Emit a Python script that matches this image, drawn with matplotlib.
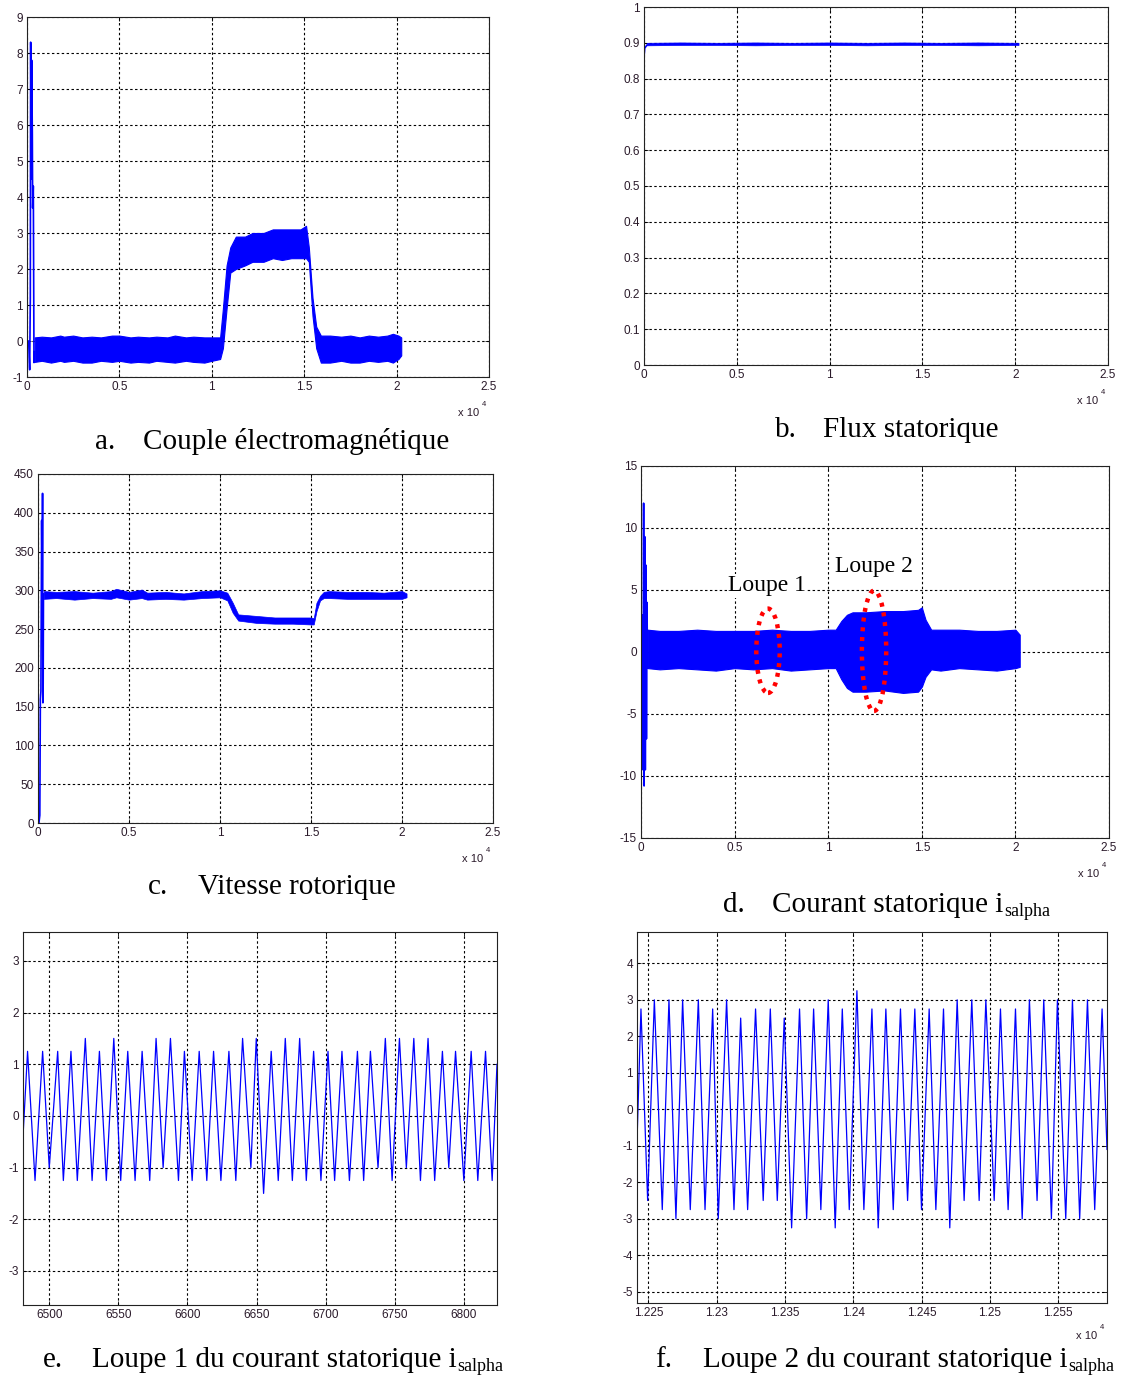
import matplotlib
matplotlib.use("Agg")
import matplotlib.pyplot as plt
from matplotlib.patches import Ellipse

W, H = 1121, 1380
BLUE = "#0000ff"
TICKC = "#2a1a2a"

# ---------------- data ----------------
# x axis labels for panels a-d (samples, shown as x 10^4)
long_xticks = [0, 5000, 10000, 15000, 20000, 25000]
long_xlabels = ["0", "0.5", "1", "1.5", "2", "2.5"]

# a. electromagnetic torque: start-up transient + noise envelope
a_start_x = [0, 90, 144, 180, 198, 234, 252, 288, 306, 342, 378, 414]
a_start_y = [0.0, 0.0, -0.8, 1.2, 8.3, 4.5, 7.8, 5.8, 3.7, 4.3, -0.6, -0.3]
a_env_x = [414, 800, 1300, 1800, 2000, 2500, 3000, 3500, 4000, 4600, 5000, 5600, 6000,
           6600, 7000, 7600, 8000, 8600, 9000, 9600, 10000, 10450, 10600, 10800, 11000,
           11300, 11800, 12200, 12800, 13300, 13800, 14300, 14800, 15100, 15250, 15450,
           15650, 15900, 16400, 17000, 17500, 18000, 18500, 19000, 19500, 19800, 20100, 20250]
a_env_hi = [0.1, 0.12, 0.1, 0.15, 0.12, 0.15, 0.1, 0.12, 0.1, 0.15, 0.15, 0.1, 0.12,
            0.1, 0.12, 0.1, 0.15, 0.1, 0.12, 0.1, 0.1, 0.1, 0.9, 2.1, 2.6, 2.9,
            2.9, 3.0, 3.0, 3.1, 3.1, 3.1, 3.1, 3.2, 2.6, 1.2, 0.4, 0.15, 0.15, 0.12,
            0.15, 0.1, 0.15, 0.12, 0.15, 0.2, 0.15, 0.1]
a_env_lo = [-0.58, -0.55, -0.6, -0.55, -0.58, -0.55, -0.6, -0.6, -0.55, -0.58, -0.55, -0.6, -0.58,
            -0.6, -0.55, -0.58, -0.6, -0.55, -0.58, -0.6, -0.55, -0.5, -0.2, 0.9, 1.9, 2.0,
            2.1, 2.2, 2.2, 2.3, 2.25, 2.3, 2.3, 2.3, 2.2, 0.7, -0.2, -0.6, -0.6, -0.55,
            -0.6, -0.6, -0.55, -0.58, -0.55, -0.6, -0.5, -0.4]

# b. stator flux
b_start_x = [0, 0, 40, 150]
b_start_y = [0.0, 0.86, 0.885, 0.893]
b_env_x = [150, 2000, 4000, 6000, 8000, 10000, 12000, 14000, 16000, 18000, 20180]
b_env_hi = [0.900, 0.901, 0.900, 0.901, 0.900, 0.901, 0.900, 0.901, 0.900, 0.901, 0.900]
b_env_lo = [0.893, 0.894, 0.894, 0.893, 0.894, 0.894, 0.893, 0.894, 0.894, 0.893, 0.894]

# c. rotor speed
c_start_x = [0, 50, 100, 130, 160, 200, 230, 250, 270, 285, 300, 320]
c_start_y = [0, 0, 10, 160, 170, 390, 300, 425, 155, 180, 290, 295]
c_env_x = [320, 1000, 2000, 3000, 4000, 4300, 5000, 5700, 6000, 7000, 8000, 9000, 10000,
           10400, 10700, 11000, 12000, 13000, 14000, 15000, 15150, 15300, 15500, 15700,
           16000, 17000, 18000, 19000, 20000, 20250]
c_env_hi = [299, 298, 299, 297, 299, 302, 298, 301, 297, 298, 296, 299, 300,
            297, 284, 269, 267, 265, 265, 265, 264, 284, 293, 298,
            299, 298, 298, 297, 299, 296]
c_env_lo = [289, 290, 288, 290, 289, 291, 288, 290, 288, 289, 288, 290, 291,
            287, 271, 261, 258, 257, 257, 256, 256, 273, 287, 290,
            290, 289, 289, 289, 289, 291]

# d. stator current i_salpha
d_start_x = [0, 60, 110, 140, 165, 200, 230, 265, 290, 320, 350]
d_start_y = [0.0, 3.0, -9.5, 12.0, -10.8, 9.3, -9.5, 7.0, -7.0, 4.0, -1.3]
d_env_x = [350, 1000, 2000, 3000, 4000, 5000, 6000, 7000, 8000, 9000, 10000, 10400, 10700,
           11000, 11300, 12000, 13000, 14000, 14800, 15000, 15200, 15500, 16000, 17000,
           18000, 19000, 20000, 20230]
d_env_hi = [1.8, 1.7, 1.7, 1.8, 1.7, 1.7, 1.7, 1.8, 1.7, 1.7, 1.8, 1.8, 2.5,
            3.0, 3.2, 3.2, 3.3, 3.3, 3.4, 3.6, 2.6, 1.8, 1.8, 1.8,
            1.7, 1.7, 1.8, 1.4]
d_env_lo = [-1.3, -1.4, -1.3, -1.4, -1.5, -1.3, -1.4, -1.3, -1.5, -1.4, -1.3, -1.3, -2.2,
            -2.9, -3.2, -3.2, -3.1, -3.3, -3.2, -2.8, -2.0, -1.4, -1.5, -1.3,
            -1.4, -1.5, -1.3, -1.2]
loupe1 = dict(x=6785, y=0.1, w=1250, h=6.8)
loupe2 = dict(x=12449, y=0.1, w=1300, h=9.7)

# e. zoom 1 : peaks / troughs of i_salpha
e_peak_x = [6484.3, 6495.2, 6506.1, 6515.7, 6526.1, 6536.3, 6546.7, 6556.8, 6567.2, 6577.3,
            6587.7, 6597.8, 6608.5, 6618.9, 6630.0, 6639.9, 6649.8, 6660.6, 6670.8, 6681.2,
            6691.3, 6701.7, 6711.8, 6723.0, 6732.4, 6743.2, 6753.4, 6763.8, 6774.1, 6784.5,
            6794.0, 6805.3, 6815.7]
e_peak_y = [1.25, 1.25, 1.25, 1.25, 1.5, 1.25, 1.5, 1.25, 1.25, 1.5,
            1.5, 1.25, 1.25, 1.25, 1.25, 1.5, 1.5, 1.25, 1.5, 1.5,
            1.25, 1.25, 1.25, 1.25, 1.25, 1.5, 1.5, 1.5, 1.5, 1.25,
            1.25, 1.25, 1.25]
e_trough_x = [6489.7, 6500.0, 6510.2, 6520.3, 6531.0, 6541.3, 6551.7, 6562.1, 6572.7, 6582.4,
              6593.5, 6603.4, 6614.0, 6624.2, 6635.0, 6645.9, 6655.1, 6665.7, 6675.9, 6686.0,
              6696.6, 6706.5, 6717.2, 6727.5, 6737.9, 6748.1, 6758.4, 6768.6, 6778.9, 6789.1,
              6800.0, 6810.1, 6820.5]
e_trough_y = [-1.25, -1.0, -1.25, -1.25, -1.25, -1.25, -1.25, -1.25, -1.25, -1.0,
              -1.25, -1.25, -1.25, -1.25, -1.25, -1.0, -1.5, -1.25, -1.25, -1.25,
              -1.25, -1.25, -1.25, -1.25, -1.0, -1.25, -1.0, -1.25, -1.25, -1.0,
              -1.25, -1.25, -1.25]
e_ends = [(6481.0, -0.4), (6824.0, 1.0)]
e_xticks = [6500, 6550, 6600, 6650, 6700, 6750, 6800]
e_yticks = [-3, -2, -1, 0, 1, 2, 3]

# f. zoom 2
f_peak_x = [12244.6, 12254.4, 12265.1, 12275.1, 12286.6, 12297.1, 12307.3, 12317.6, 12328.5,
            12339.3, 12349.5, 12360.7, 12371.0, 12381.7, 12392.0, 12402.7, 12413.7, 12423.9,
            12434.6, 12445.1, 12455.6, 12466.1, 12476.1, 12486.8, 12497.1, 12507.8, 12518.8,
            12529.0, 12539.5, 12549.5, 12560.5, 12571.5, 12582.2]
f_peak_y = [2.75, 3.0, 3.0, 3.0, 3.0, 2.75, 3.0, 2.5, 2.75,
            2.75, 2.5, 2.75, 2.75, 3.0, 2.75, 3.25, 2.75, 2.75,
            2.75, 2.75, 2.75, 2.75, 3.0, 3.0, 3.0, 2.75, 2.75,
            3.0, 3.0, 3.0, 3.0, 3.0, 2.75]
f_trough_x = [12249.5, 12260.2, 12270.2, 12280.7, 12291.5, 12301.2, 12312.7, 12322.7, 12334.1,
              12344.4, 12354.9, 12365.9, 12376.3, 12386.8, 12397.1, 12407.8, 12418.3, 12429.3,
              12439.8, 12450.0, 12460.5, 12470.7, 12481.2, 12492.2, 12503.2, 12513.4, 12523.7,
              12534.6, 12545.1, 12555.6, 12565.8, 12576.8]
f_trough_y = [-2.5, -2.75, -3.0, -2.75, -2.75, -3.0, -2.75, -2.75, -2.5,
              -2.5, -3.25, -3.0, -2.75, -3.25, -2.75, -2.75, -3.25, -2.75,
              -2.5, -2.75, -2.75, -3.25, -2.5, -2.5, -2.5, -2.75, -3.0,
              -2.5, -3.0, -3.0, -3.0, -2.75]
f_ends = [(12241.7, -0.9), (12585.8, -1.1)]
f_xticks = [12250, 12300, 12350, 12400, 12450, 12500, 12550]
f_xlabels = ["1.225", "1.23", "1.235", "1.24", "1.245", "1.25", "1.255"]
f_yticks = [-5, -4, -3, -2, -1, 0, 1, 2, 3, 4]

captions = [
    ("a.", "Couple électromagnétique", "", 95, 143, 449),
    ("b.", "Flux statorique", "", 775, 823, 437),
    ("c.", "Vitesse rotorique", "", 148, 198, 894),
    ("d.", "Courant statorique i", "salpha", 723, 772, 912),
    ("e.", "Loupe 1 du courant statorique i", "salpha", 43, 92, 1367),
    ("f.", "Loupe 2 du courant statorique i", "salpha", 655, 703, 1367),
]

# ---------------- drawing ----------------
plt.rcParams["font.family"] = ["Liberation Sans", "DejaVu Sans"]
fig = plt.figure(figsize=(W / 100, H / 100), dpi=100)
fig.patch.set_facecolor("white")


def make_ax(l, r, t, b):
    ax = fig.add_axes([l / W, 1 - b / H, (r - l) / W, (b - t) / H])
    ax.set_axisbelow(True)
    ax.grid(True, color="black", linestyle=(0, (2.2, 2.2)), linewidth=0.8)
    ax.tick_params(direction="in", length=3, width=0.6, labelsize=8.5,
                   labelcolor=TICKC, top=True, right=True, pad=3)
    for s in ax.spines.values():
        s.set_linewidth(0.8)
        s.set_color("#222222")
    return ax


def exp_label(ax, dx=0, dy=-22):
    ax.annotate("x 10", xy=(1, 0), xycoords="axes fraction", xytext=(-7 + dx, dy),
                textcoords="offset points", ha="right", va="top", fontsize=8, color=TICKC)
    ax.annotate("4", xy=(1, 0), xycoords="axes fraction", xytext=(-2 + dx, dy + 5),
                textcoords="offset points", ha="right", va="top", fontsize=5.5, color=TICKC)


def long_axis(ax, ylim, yticks):
    ax.set_xlim(0, 25000)
    ax.set_ylim(*ylim)
    ax.set_xticks(long_xticks)
    ax.set_xticklabels(long_xlabels)
    ax.set_yticks(yticks)
    ax.set_yticklabels([f"{v:g}" for v in yticks])
    exp_label(ax)


def zigzag(px, py, tx, ty, ends):
    pts = sorted(list(zip(px, py)) + list(zip(tx, ty)) + list(ends))
    return [p[0] for p in pts], [p[1] for p in pts]


# a
ax = make_ax(27, 489, 17, 377)
ax.plot(a_start_x, a_start_y, color=BLUE, lw=1.2)
ax.fill_between(a_env_x, a_env_lo, a_env_hi, color=BLUE, lw=0.8)
long_axis(ax, (-1, 9), list(range(-1, 10)))

# b
ax = make_ax(644, 1108, 7, 365)
ax.plot(b_start_x, b_start_y, color=BLUE, lw=1.2)
ax.fill_between(b_env_x, b_env_lo, b_env_hi, color=BLUE, lw=0.5)
long_axis(ax, (0, 1), [0, 0.1, 0.2, 0.3, 0.4, 0.5, 0.6, 0.7, 0.8, 0.9, 1])

# c
ax = make_ax(38, 493, 474, 823)
ax.plot(c_start_x, c_start_y, color=BLUE, lw=1.2)
ax.fill_between(c_env_x, c_env_lo, c_env_hi, color=BLUE, lw=0.5)
long_axis(ax, (0, 450), list(range(0, 451, 50)))

# d
ax = make_ax(641, 1109, 466, 838)
ax.plot(d_start_x, d_start_y, color=BLUE, lw=1.2)
ax.fill_between(d_env_x, d_env_lo, d_env_hi, color=BLUE, lw=0.8)
long_axis(ax, (-15, 15), [-15, -10, -5, 0, 5, 10, 15])
for lp in (loupe1, loupe2):
    ax.add_patch(Ellipse((lp["x"], lp["y"]), lp["w"], lp["h"], fill=False,
                         edgecolor="red", lw=3.2, linestyle=(0, (0.9, 1.3)), zorder=5))
ax.text(4648, 4.9, "Loupe 1", family=["Liberation Serif"], fontsize=17, va="baseline",
        ha="left", bbox=dict(facecolor="white", edgecolor="none", pad=1), zorder=6)
ax.text(10383, 6.45, "Loupe 2", family=["Liberation Serif"], fontsize=17, va="baseline",
        ha="left", bbox=dict(facecolor="white", edgecolor="none", pad=1), zorder=6)

# e
ax = make_ax(23, 497, 932, 1305)
ex, ey = zigzag(e_peak_x, e_peak_y, e_trough_x, e_trough_y, e_ends)
ax.plot(ex, ey, color=BLUE, lw=0.9)
ax.set_xlim(6481, 6824)
ax.set_ylim(-3.66, 3.56)
ax.set_xticks(e_xticks)
ax.set_xticklabels([str(v) for v in e_xticks])
ax.set_yticks(e_yticks)
ax.set_yticklabels([str(v) for v in e_yticks])

# f
ax = make_ax(637, 1107, 932, 1303)
fx, fy = zigzag(f_peak_x, f_peak_y, f_trough_x, f_trough_y, f_ends)
ax.plot(fx, fy, color=BLUE, lw=0.9)
ax.set_xlim(12241.7, 12585.8)
ax.set_ylim(-5.31, 4.86)
ax.set_xticks(f_xticks)
ax.set_xticklabels(f_xlabels)
ax.set_yticks(f_yticks)
ax.set_yticklabels([str(v) for v in f_yticks])
exp_label(ax, dy=-20)

# captions
for lab, txt, sub, xl, xt, yb in captions:
    fig.text(xl / W, 1 - yb / H, lab, family=["Liberation Serif"], fontsize=21,
             va="baseline", ha="left")
    t = fig.text(xt / W, 1 - yb / H, txt, family=["Liberation Serif"], fontsize=21,
                 va="baseline", ha="left")
    if sub:
        plt.annotate(sub, xy=(1, 0), xycoords=t, xytext=(0.5, -1.5),
                     textcoords="offset points", family=["Liberation Serif"],
                     fontsize=13, va="bottom", ha="left", annotation_clip=False)

fig.savefig("out.png", dpi=100)
